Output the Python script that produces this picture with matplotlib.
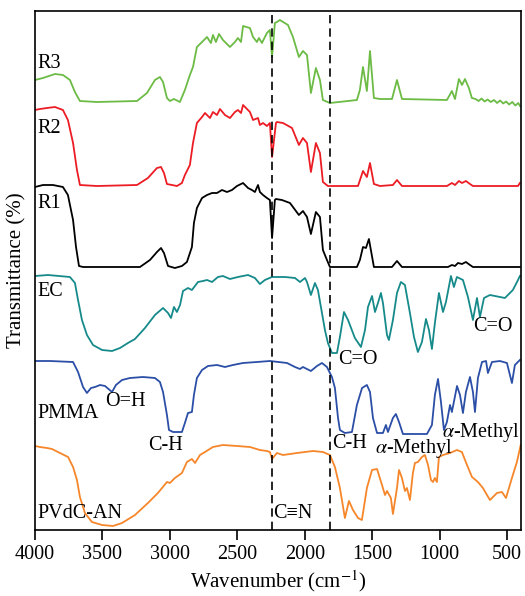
import matplotlib
matplotlib.use("Agg")
import matplotlib.pyplot as plt

plt.rcParams['font.family'] = ['Liberation Serif', 'DejaVu Serif']
plt.rcParams['mathtext.fontset'] = 'stix'

# ---- data (wavenumber cm^-1, stacked transmittance, arbitrary units) ----
r3_wn = [4000, 3941, 3852, 3793, 3741, 3704, 3667, 3541, 3244, 3170, 3111, 3074, 3051, 3022, 3000,
         2970, 2926, 2889, 2852, 2829, 2800, 2762, 2725, 2696, 2681, 2659, 2636, 2607, 2555, 2518,
         2496, 2473, 2458, 2407, 2384, 2355, 2340, 2318, 2281, 2259, 2243, 2222, 2207, 2185, 2125,
         2088, 2044, 2014, 1984, 1955, 1918, 1888, 1866, 1814, 1614, 1592, 1569, 1540, 1517, 1488,
         1443, 1354, 1317, 1280, 947, 910, 887, 858, 835, 813, 784, 762, 735, 712, 690, 668, 645,
         622, 598, 575, 552, 530, 508, 486, 462, 440, 418, 405]
r3_t = [90.0, 90.4, 91.2, 91.0, 90.0, 87.6, 85.8, 85.6, 85.8, 87.4, 90.0, 90.6, 89.6, 86.4, 85.8,
        86.2, 85.6, 88.0, 91.0, 92.6, 96.6, 97.6, 98.6, 97.4, 99.0, 97.6, 99.2, 98.0, 96.6, 97.6,
        98.4, 97.6, 100.8, 100.4, 98.6, 97.6, 98.4, 97.4, 99.4, 100.0, 94.6, 101.4, 101.6, 102.0, 101.0,
        98.6, 94.6, 95.8, 95.0, 87.4, 92.4, 90.0, 86.0, 85.4, 86.0, 88.0, 92.6, 87.8, 95.8, 86.4,
        86.2, 86.2, 90.0, 86.2, 86.0, 87.8, 86.2, 90.2, 89.0, 90.2, 88.4, 86.4, 86.2, 85.8, 86.3, 85.7, 86.1,
        85.6, 86.0, 85.4, 85.9, 85.3, 85.7, 85.1, 85.6, 84.9, 85.4, 84.8]

r2_wn = [4000, 3963, 3911, 3852, 3793, 3756, 3718, 3689, 3667, 3541, 3244, 3163, 3096, 3066, 3044,
         3022, 2948, 2911, 2889, 2852, 2829, 2800, 2762, 2740, 2703, 2681, 2651, 2629, 2592, 2555,
         2518, 2496, 2473, 2458, 2407, 2384, 2347, 2333, 2310, 2281, 2259, 2243, 2214, 2207, 2162,
         2095, 2044, 2014, 1984, 1955, 1918, 1888, 1866, 1829, 1606, 1569, 1540, 1517, 1488, 1443,
         1347, 1317, 1280, 947, 910, 887, 858, 835, 806, 776, 754, 420, 406]
r2_t = [84.0, 84.2, 84.4, 84.6, 84.0, 82.0, 77.4, 72.0, 69.0, 68.8, 69.0, 70.4, 72.4, 72.6, 71.4,
        69.2, 68.8, 69.4, 71.0, 73.0, 77.4, 81.4, 82.6, 83.4, 82.4, 83.6, 83.0, 84.2, 83.0, 82.4,
        83.6, 84.0, 83.4, 85.0, 83.6, 82.0, 82.4, 81.0, 81.4, 80.8, 81.4, 74.6, 81.4, 81.6, 81.4,
        80.4, 77.0, 78.4, 77.4, 71.6, 77.4, 75.4, 69.6, 68.8, 68.8, 71.8, 70.6, 73.4, 69.2, 68.8,
        69.0, 70.0, 68.8, 68.8, 69.4, 69.0, 69.8, 69.4, 69.8, 69.2, 68.8, 68.8, 69.4]

r1_wn = [4000, 3941, 3867, 3793, 3756, 3718, 3696, 3674, 3644, 3222, 3148, 3096, 3066, 3044, 3014,
         2963, 2911, 2874, 2837, 2822, 2800, 2762, 2725, 2688, 2651, 2614, 2577, 2540, 2503, 2458,
         2421, 2392, 2370, 2347, 2333, 2310, 2281, 2259, 2243, 2222, 2214, 2170, 2110, 2044, 2014,
         1984, 1955, 1918, 1888, 1866, 1836, 1814, 1614, 1592, 1569, 1547, 1525, 1488, 1354, 1317,
         1280, 939, 910, 887, 865, 835, 806, 776, 754, 406]
r1_t = [68.6, 69.0, 69.0, 68.6, 67.0, 62.0, 56.6, 52.8, 52.6, 52.6, 54.0, 55.6, 56.4, 55.4, 52.8,
        52.4, 52.8, 53.6, 56.6, 61.4, 64.4, 66.4, 67.0, 67.4, 67.4, 68.0, 67.6, 68.0, 68.8, 69.4,
        68.4, 68.0, 67.6, 69.0, 67.6, 67.0, 66.4, 66.0, 58.4, 66.0, 66.2, 66.0, 65.4, 63.0, 63.8,
        62.6, 59.2, 63.6, 62.6, 56.0, 54.0, 52.6, 52.6, 54.0, 56.6, 56.4, 58.2, 52.6, 52.6, 53.8,
        52.6, 52.6, 53.0, 52.8, 53.4, 53.2, 53.6, 53.0, 52.6, 52.6]

ec_wn = [4000, 3904, 3741, 3704, 3681, 3652, 3615, 3570, 3503, 3429, 3370, 3311, 3259, 3185, 3111,
         3051, 3014, 2992, 2970, 2948, 2925, 2903, 2866, 2837, 2792, 2755, 2725, 2688, 2644, 2607,
         2555, 2496, 2421, 2370, 2333, 2296, 2244, 2147, 2073, 2036, 1999, 1984, 1955, 1925, 1903,
         1873, 1851, 1829, 1799, 1762, 1740, 1710, 1680, 1629, 1584, 1554, 1532, 1502, 1480, 1458,
         1436, 1421, 1391, 1377, 1347, 1317, 1288, 1258, 1221, 1191, 1162, 1132, 1102, 1080, 1058,
         1036, 1006, 976, 954, 917, 895, 873, 828, 791, 754, 724, 702, 672, 628, 517, 458, 420, 406]
ec_t = [50.8, 51.0, 50.6, 49.4, 46.0, 42.0, 39.0, 37.0, 36.0, 35.8, 36.4, 37.4, 38.2, 40.4, 43.0,
        44.4, 43.4, 42.4, 44.6, 43.6, 45.0, 47.8, 48.4, 48.0, 49.6, 49.8, 50.0, 49.6, 50.6, 50.8,
        50.2, 50.6, 51.0, 50.4, 49.2, 50.0, 50.6, 50.6, 50.4, 49.6, 50.4, 49.6, 47.0, 49.4, 48.0,
        43.4, 40.0, 37.4, 35.4, 35.4, 38.6, 43.6, 42.0, 38.4, 36.6, 40.0, 44.6, 46.8, 43.6, 45.4,
        47.4, 45.4, 39.0, 38.0, 42.0, 47.4, 49.6, 49.0, 43.4, 38.6, 35.6, 37.6, 42.2, 40.0, 36.2,
        41.4, 47.4, 43.6, 45.6, 50.8, 48.6, 50.6, 50.0, 46.6, 42.0, 46.4, 42.6, 46.4, 47.0, 46.4, 48.0, 50.0, 50.8]

pmma_wn = [4000, 3889, 3718, 3681, 3644, 3615, 3585, 3555, 3518, 3481, 3429, 3400, 3355, 3296, 3200,
           3111, 3074, 3051, 3022, 3007, 2977, 2911, 2889, 2866, 2837, 2822, 2800, 2762, 2718, 2651,
           2592, 2533, 2458, 2355, 2259, 2132, 2073, 2036, 2014, 1955, 1910, 1873, 1836, 1799, 1777,
           1754, 1740, 1703, 1651, 1614, 1576, 1540, 1517, 1495, 1465, 1421, 1399, 1384, 1347, 1325,
           1302, 1273, 1095, 1058, 1036, 1013, 991, 969, 947, 924, 910, 872, 850, 828, 806,
           776, 754, 739, 717, 687, 657, 643, 613, 554, 502, 465, 443, 406]
pmma_t = [33.8, 33.8, 33.6, 31.6, 28.6, 27.4, 28.4, 28.6, 29.0, 28.8, 27.6, 29.0, 30.0, 30.4, 30.6,
          30.4, 29.6, 27.6, 23.0, 20.0, 19.6, 19.6, 21.4, 23.4, 23.6, 27.0, 30.4, 32.0, 32.8, 33.0,
          32.6, 33.0, 33.4, 33.6, 33.8, 33.4, 32.6, 32.2, 32.6, 31.8, 32.8, 33.4, 32.6, 30.6, 28.4,
          22.4, 20.0, 19.4, 19.6, 25.0, 28.4, 29.0, 27.6, 22.4, 19.4, 19.4, 21.0, 19.6, 22.4, 23.2,
          21.6, 19.2, 19.2, 21.0, 27.0, 30.2, 25.6, 20.0, 21.6, 25.0, 23.6, 28.8, 27.0, 23.4, 27.6,
          30.6, 27.6, 23.6, 30.4, 33.6, 33.8, 31.4, 33.6, 33.8, 33.4, 29.4, 33.0, 34.0]

pvdc_wn = [4000, 3963, 3911, 3874, 3815, 3755, 3718, 3689, 3667, 3630, 3578, 3503, 3422, 3355, 3259,
           3163, 3089, 3022, 3000, 2963, 2911, 2874, 2837, 2814, 2777, 2740, 2681, 2607, 2503, 2407,
           2333, 2281, 2259, 2243, 2207, 2162, 2058, 1940, 1866, 1814, 1777, 1740, 1703, 1673, 1643,
           1606, 1577, 1540, 1502, 1465, 1428, 1406, 1391, 1362, 1347, 1317, 1302, 1280, 1258, 1243,
           1221, 1199, 1184, 1162, 1132, 1110, 1087, 1065, 1050, 1036, 1021, 1006, 976, 924, 873,
           836, 798, 761, 717, 680, 628, 576, 539, 509, 465, 428, 400]
pvdc_t = [16.8, 16.6, 16.4, 16.2, 15.4, 14.6, 12.6, 10.0, 6.6, 3.4, 1.6, 1.0, 0.8, 1.4, 3.0,
          5.4, 7.4, 9.6, 9.4, 10.4, 11.4, 13.6, 14.2, 13.4, 15.0, 15.6, 16.6, 17.0, 16.8, 16.6,
          16.0, 15.8, 15.6, 14.2, 15.4, 15.0, 15.4, 15.8, 15.6, 15.0, 12.6, 8.4, 2.4, 5.8, 4.0,
          2.4, 2.0, 8.4, 12.0, 12.2, 9.0, 7.0, 7.8, 6.4, 3.2, 8.4, 12.0, 10.4, 7.8, 8.4,
          6.0, 11.4, 13.4, 13.6, 14.6, 15.0, 13.0, 10.0, 9.6, 10.4, 9.6, 14.6, 15.0, 15.4, 16.0,
          15.6, 13.0, 10.6, 9.6, 8.4, 6.0, 7.4, 7.6, 6.4, 10.4, 13.6, 17.0]

series = [
    ("R3", r3_wn, r3_t, "#6cbb45"),
    ("R2", r2_wn, r2_t, "#ec1c24"),
    ("R1", r1_wn, r1_t, "#000000"),
    ("EC", ec_wn, ec_t, "#168a8a"),
    ("PMMA", pmma_wn, pmma_t, "#2b4ea6"),
    ("PVdC-AN", pvdc_wn, pvdc_t, "#f6862a"),
]

# labels: (text, wavenumber of left edge, y centre)
trace_labels = [("R3", 3985, 93.2), ("R2", 3985, 80.2), ("R1", 3985, 65.2), ("EC", 3985, 47.6),
                ("PMMA", 3985, 23.4), ("PVdC-AN", 3985, 3.4)]
band_labels = [("O=H", 3481, 25.6), ("C-H", 3162, 17.0), ("C-H", 1799, 17.2),
               (r"$\alpha$-Methyl", 1480, 16.2), (r"$\alpha$-Methyl", 984, 19.4),
               ("C=O", 1754, 34.0), ("C=O", 754, 40.6), ("C≡N", 2237, 3.4)]
dashed_wn = [2245, 1810]
xticks = [4000, 3500, 3000, 2500, 2000, 1500, 1000, 500]

fig = plt.figure(figsize=(5.25, 5.96), dpi=100)
ax = fig.add_axes([35 / 525, 1 - 530 / 596, 485.7 / 525, 519 / 596])

for name, wn, t, c in series:
    ax.plot(wn, t, color=c, lw=1.3, solid_joinstyle='round')

for w in dashed_wn:
    ax.axvline(w, color='black', lw=1.2, ls=(0, (5, 3)))

for txt, w, y in trace_labels:
    ax.text(w, y, txt, fontsize=14.5, ha='left', va='center')
for txt, w, y in band_labels:
    ax.text(w, y, txt, fontsize=14.5, ha='left', va='center')

ax.set_xlim(4000, 400)
ax.set_ylim(0, 103.8)
ax.set_yticks([])
ax.set_xticks(xticks)
ax.tick_params(axis='x', direction='out', length=7, width=1.2, labelsize=14.5, pad=4)
for s in ax.spines.values():
    s.set_linewidth(1.2)
ax.set_xlabel("Wavenumber (cm$^{-1}$)", fontsize=15, labelpad=3)
ax.set_ylabel("Transmittance (%)", fontsize=15, labelpad=6)

fig.savefig("out.png", dpi=100)
